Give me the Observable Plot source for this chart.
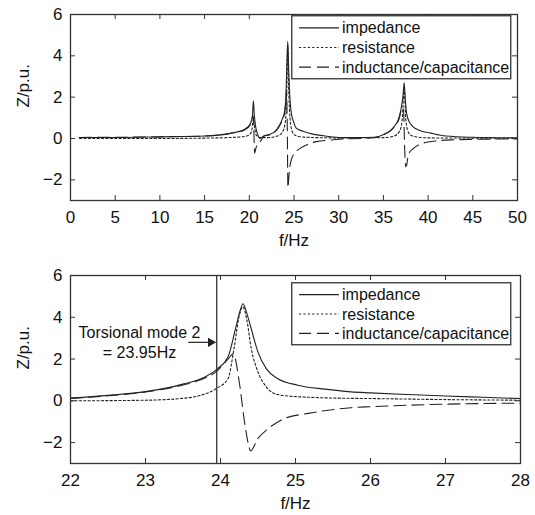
<!DOCTYPE html>
<html><head><meta charset="utf-8">
<script src="https://cdn.jsdelivr.net/npm/d3@7"></script>
<script src="https://cdn.jsdelivr.net/npm/@observablehq/plot@0.6"></script>
<style>
body{margin:0;background:#fff;font-family:"Liberation Sans",Arial,sans-serif;}
#wrap{position:relative;width:535px;height:515px;overflow:hidden;}
#wrap svg{display:block;}
.legend{position:absolute;}
</style></head><body><div id="wrap"></div>
<script>
// ---------- Top panel data (0-50 Hz) ----------
const topImpF = [1, 5, 10, 15, 18, 19.5, 20.1, 20.35, 20.46, 20.55, 20.7, 20.9, 21.2, 21.6, 22.3, 23.0, 23.4, 23.7, 23.95, 24.1, 24.2, 24.3, 24.4, 24.5, 24.7, 25.0, 25.25, 26, 27.1, 28, 30.1, 32, 34, 35.1, 35.8, 36.2, 36.7, 37.0, 37.2, 37.32, 37.45, 37.6, 37.9, 38.3, 39, 40.3, 42, 45, 50];
const topImp  = [0.05, 0.05, 0.08, 0.12, 0.26, 0.45, 0.7, 1.1, 1.83, 1.2, 0.6, 0.25, 0.0, 0.12, 0.2, 0.4, 0.66, 0.95, 1.3, 2.1, 3.6, 4.7, 3.4, 2.3, 1.23, 0.75, 0.5, 0.35, 0.21, 0.15, 0.05, 0.04, 0.06, 0.21, 0.38, 0.58, 0.95, 1.5, 2.1, 2.7, 1.9, 1.2, 0.8, 0.58, 0.4, 0.26, 0.12, 0.06, 0.03];

const topResF = [1, 10, 15, 18, 19.5, 20.1, 20.3, 20.46, 20.6, 20.8, 21.2, 22, 23, 23.6, 23.95, 24.1, 24.2, 24.3, 24.4, 24.5, 24.7, 25.0, 25.5, 27, 30, 35, 36.2, 36.8, 37.1, 37.32, 37.5, 37.7, 38.1, 39, 40, 45, 50];
const topRes  = [0.0, 0.0, 0.02, 0.05, 0.1, 0.22, 0.45, 0.95, 0.5, 0.15, 0.05, 0.04, 0.1, 0.25, 0.6, 1.1, 2.5, 4.5, 2.5, 1.4, 0.5, 0.2, 0.1, 0.05, 0.03, 0.04, 0.12, 0.35, 0.9, 2.4, 1.0, 0.4, 0.15, 0.06, 0.03, 0.02, 0.01];

const topReaF = [1, 10, 15, 18, 19.5, 20.1, 20.35, 20.45, 20.52, 20.6, 20.75, 21.0, 21.3, 21.6, 22.3, 23.0, 23.5, 23.95, 24.1, 24.17, 24.25, 24.32, 24.4, 24.5, 24.7, 25.0, 25.45, 26, 27.5, 29, 30.5, 32.5, 34, 35.1, 36.2, 36.8, 37.1, 37.25, 37.38, 37.5, 37.6, 37.7, 37.9, 38.3, 39, 40.0, 41, 43, 45, 50];
const topRea  = [0.05, 0.08, 0.12, 0.25, 0.42, 0.65, 1.0, 1.1, 0.2, -0.71, -0.45, -0.25, -0.1, 0.1, 0.18, 0.38, 0.7, 1.25, 1.9, 2.3, 0.5, -2.38, -2.0, -1.5, -1.03, -0.75, -0.55, -0.4, -0.15, -0.08, -0.02, 0.0, 0.05, 0.2, 0.55, 1.0, 1.5, 1.4, -0.5, -1.36, -1.3, -1.0, -0.7, -0.5, -0.3, -0.17, -0.11, -0.06, -0.04, -0.02];

// ---------- Bottom panel data (22-28 Hz) ----------
const botImpF = [22, 22.5, 23, 23.5, 23.8, 23.96, 24.1, 24.21, 24.26, 24.3, 24.35, 24.41, 24.5, 24.61, 24.76, 25.03, 25.39, 25.74, 26, 26.5, 27, 27.5, 28];
const botImp  = [0.13, 0.26, 0.44, 0.8, 1.15, 1.54, 2.1, 3.6, 4.3, 4.65, 4.2, 3.45, 2.33, 1.54, 1.07, 0.75, 0.56, 0.43, 0.38, 0.3, 0.23, 0.17, 0.11];

const botResF = [22, 23, 23.5, 23.74, 23.96, 24.1, 24.18, 24.25, 24.3, 24.35, 24.41, 24.5, 24.61, 24.76, 25.07, 25.74, 26, 27, 28];
const botRes  = [0.0, 0.03, 0.12, 0.27, 0.62, 1.06, 2.5, 4.08, 4.5, 3.9, 2.5, 1.38, 0.67, 0.3, 0.19, 0.12, 0.11, 0.06, 0.03];

const botReaF = [22, 22.5, 23, 23.5, 23.8, 23.96, 24.1, 24.17, 24.25, 24.32, 24.38, 24.4, 24.5, 24.64, 24.86, 25.17, 25.52, 25.74, 26, 26.5, 27, 27.5, 28];
const botRea  = [0.12, 0.24, 0.42, 0.76, 1.1, 1.45, 2.0, 2.25, 0.9, -1.0, -2.2, -2.4, -1.8, -1.32, -0.84, -0.6, -0.41, -0.33, -0.28, -0.21, -0.16, -0.13, -0.11];

// ---------- Tick labels / text ----------
const topXTicks = [0, 5, 10, 15, 20, 25, 30, 35, 40, 45, 50];
const botXTicks = [22, 23, 24, 25, 26, 27, 28];
const yTicks = [-2, 0, 2, 4, 6];
const seriesNames = ["impedance", "resistance", "inductance/capacitance"];
const modeFreq = [23.95];
const modeLabel = ["Torsional mode 2\n= 23.95Hz"];
const xLabel = "f/Hz";
const yLabel = "Z/p.u.";

const INK = "#222";
const FONT = '"Liberation Sans", Arial, sans-serif';
const styles = [
  {strokeDasharray: null},
  {strokeDasharray: "2.2,2.2"},
  {strokeDasharray: "12,6"}
];

function zip(f, v) { return f.map((x, i) => ({f: x, v: v[i]})); }

function panel({xDomain, xTicks, series, height, mTop, mBottom, mRight, extra = []}) {
  const mLeft = 70;
  const H = height - mTop - mBottom;
  const W = 535 - mLeft - mRight;
  const tk = 5;
  return Plot.plot({
    width: 535, height,
    marginLeft: mLeft, marginRight: mRight, marginTop: mTop, marginBottom: mBottom,
    style: {fontFamily: FONT, fontSize: "17px", color: "#111", background: "#fff"},
    x: {domain: xDomain},
    y: {domain: [-3, 6]},
    marks: [
      ...series.map((s, i) => Plot.line(s, {x: "f", y: "v", stroke: INK, strokeWidth: 1.1, strokeDasharray: styles[i].strokeDasharray, curve: "monotone-x"})),
      ...extra,
      Plot.frame({stroke: "#333", strokeWidth: 1.3}),
      Plot.tickX(xTicks, {x: d => d, insetTop: H - tk, stroke: "#333"}),
      Plot.tickX(xTicks, {x: d => d, insetBottom: H - tk, stroke: "#333"}),
      Plot.tickY(yTicks, {y: d => d, insetRight: W - tk, stroke: "#333"}),
      Plot.tickY(yTicks, {y: d => d, insetLeft: W - tk, stroke: "#333"}),
      Plot.axisX(xTicks, {tickSize: 0, tickPadding: 10, label: null, fontSize: 17}),
      Plot.axisY(yTicks, {tickSize: 0, tickPadding: 8, label: null, fontSize: 17}),
      Plot.text([xLabel], {frameAnchor: "bottom", dy: 45, fontSize: 17, fill: "#111"}),
      Plot.text([yLabel], {frameAnchor: "left", dx: -47, rotate: -90, fontSize: 17, fill: "#111"})
    ]
  });
}

const wrap = document.getElementById("wrap");

const topPlot = panel({
  xDomain: [0, 50], xTicks: topXTicks, height: 255, mTop: 14, mBottom: 55, mRight: 18,
  series: [zip(topImpF, topImp), zip(topResF, topRes), zip(topReaF, topRea)]
});
wrap.appendChild(topPlot);

const botPlot = panel({
  xDomain: [22, 28], xTicks: botXTicks, height: 260, mTop: 20, mBottom: 52, mRight: 15,
  series: [zip(botImpF, botImp), zip(botResF, botRes), zip(botReaF, botRea)],
  extra: [
    Plot.ruleX(modeFreq, {stroke: INK, strokeWidth: 1.2}),
    Plot.link(modeFreq, {x1: d => d - 0.38, x2: d => d - 0.05, y1: 2.8, y2: 2.8, stroke: INK, strokeWidth: 1.2}),
    Plot.dot(modeFreq, {x: d => d, y: 2.8, symbol: "triangle2", r: 4.5, rotate: 90, dx: -6, fill: INK, stroke: "none"}),
    Plot.text(modeLabel, {x: 22.92, y: 2.85, fontSize: 16, lineHeight: 1.3, textAnchor: "middle", fill: "#111"})
  ]
});
wrap.appendChild(botPlot);

// ---------- Legends ----------
function legend(left, top, width, height) {
  const svg = d3.select(wrap).append("svg")
    .attr("class", "legend")
    .attr("width", width + 2).attr("height", height + 2)
    .style("left", left + "px").style("top", top + "px");
  svg.append("rect").attr("x", 0.75).attr("y", 0.75).attr("width", width).attr("height", height)
    .attr("fill", "#fff").attr("stroke", "#333").attr("stroke-width", 1.3);
  const rowH = (height - 4) / 3;
  seriesNames.forEach((name, i) => {
    const y = 2 + rowH * (i + 0.5) + 1;
    svg.append("line").attr("x1", 8).attr("x2", 48).attr("y1", y).attr("y2", y)
      .attr("stroke", INK).attr("stroke-width", 1.1)
      .attr("stroke-dasharray", styles[i].strokeDasharray);
    svg.append("text").attr("x", 51).attr("y", y).attr("dy", "0.35em")
      .attr("font-family", FONT).attr("font-size", 16).attr("fill", "#111").text(name);
  });
}
legend(291, 15, 219, 63);
legend(291, 282, 219, 62);
</script>
</body></html>
